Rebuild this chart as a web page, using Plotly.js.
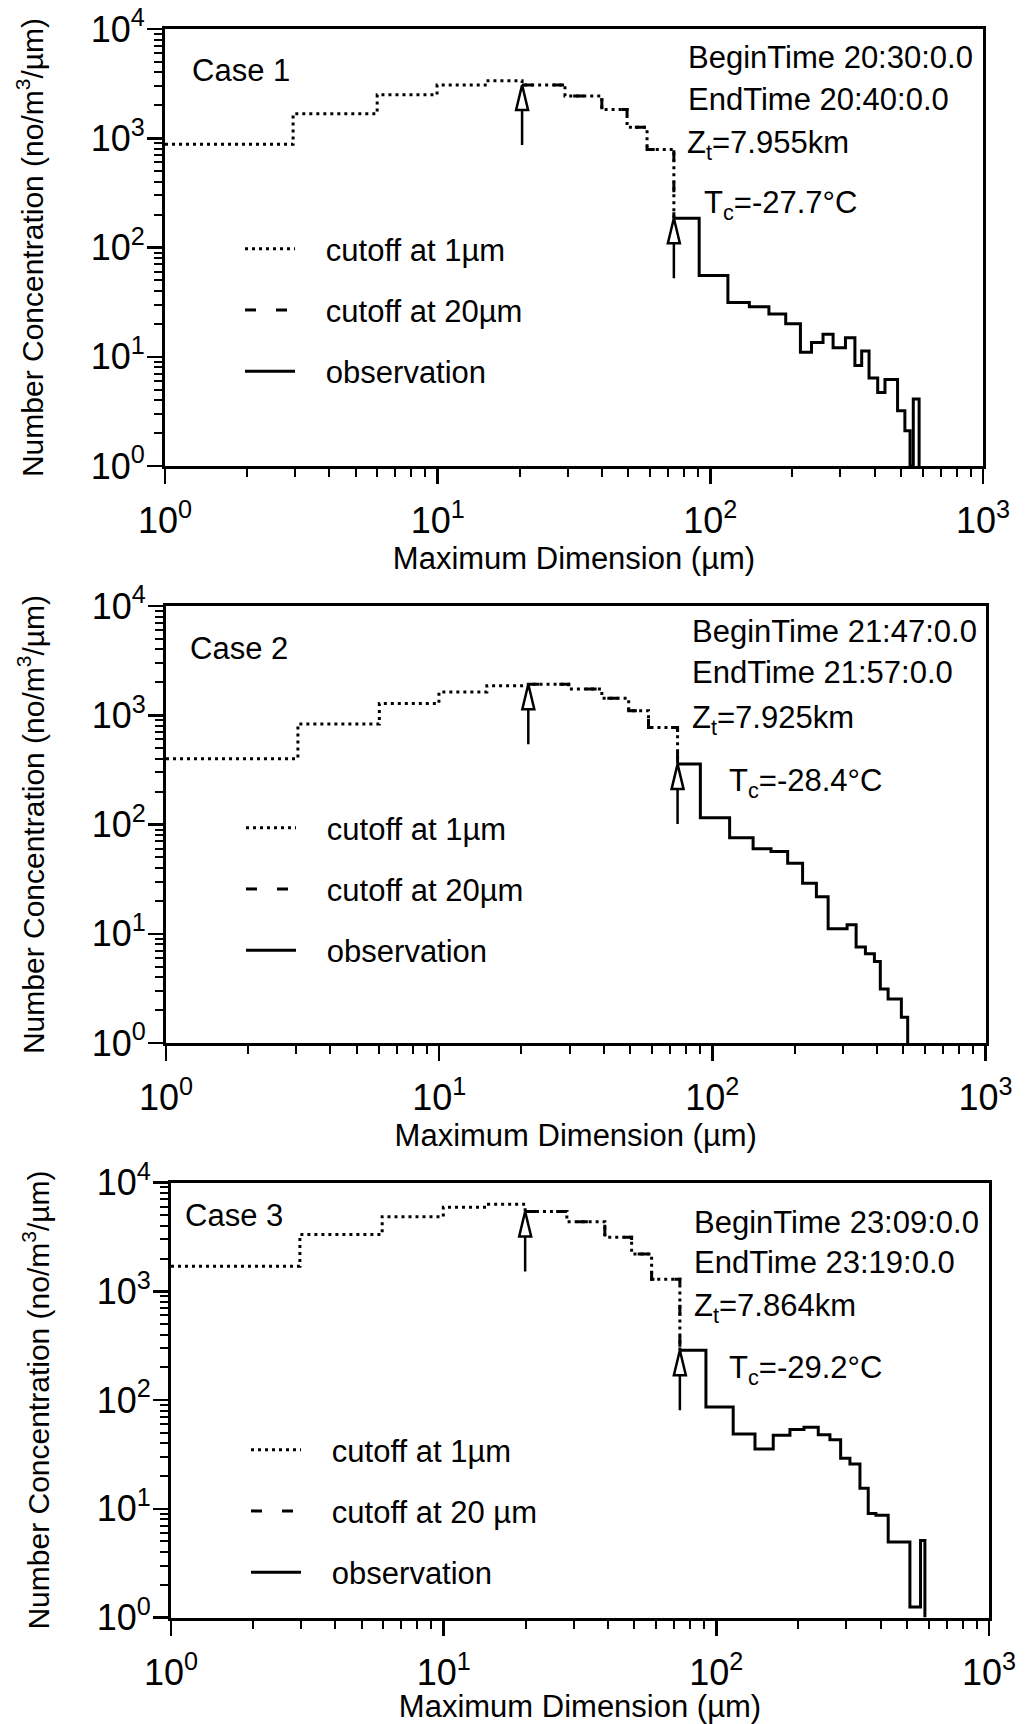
<!DOCTYPE html>
<html><head><meta charset="utf-8">
<script src="https://cdn.plot.ly/plotly-3.0.1.min.js"></script>
<style>html,body{margin:0;padding:0;background:#fff}</style>
</head><body><div id="chart" style="width:1033px;height:1724px"></div>
<script>
// ---------------- data ----------------
const caseNames  = ['Case 1', 'Case 2', 'Case 3'];
const beginTimes = ['20:30:0.0', '21:47:0.0', '23:09:0.0'];
const endTimes   = ['20:40:0.0', '21:57:0.0', '23:19:0.0'];
const zTops      = ['7.955', '7.925', '7.864'];
const tClouds    = ['-27.7', '-28.4', '-29.2'];
const seriesLabels = [
  ['cutoff at 1µm', 'cutoff at 20µm', 'observation'],
  ['cutoff at 1µm', 'cutoff at 20µm', 'observation'],
  ['cutoff at 1µm', 'cutoff at 20 µm', 'observation']
];
const xTickVals = [1, 10, 100, 1000];
const xTickText = ['10<sup>0</sup>', '10<sup>1</sup>', '10<sup>2</sup>', '10<sup>3</sup>'];
const yTickVals = [1, 10, 100, 1000, 10000];
const yTickText = ['10<sup>0</sup>', '10<sup>1</sup>', '10<sup>2</sup>', '10<sup>3</sup>', '10<sup>4</sup>'];

// Case 1 — bin edges (µm) and concentrations (no/m3/µm)
const cut1Edges1 = [1, 2.95, 6, 9.95, 15.3, 20.4, 29.3, 40, 49.5, 58.6, 73.5];
const cut1Vals1  = [880, 1680, 2500, 3070, 3360, 3070, 2440, 1830, 1260, 790];
const cut20Edges1 = [20.4, 29.3, 40, 49.5, 58.6, 73.5];
const cut20Vals1  = [3070, 2440, 1830, 1260, 790];
const obsEdges1 = [73.5, 91, 116, 139, 164, 189, 214, 235, 259, 282, 313, 339, 359, 382, 411, 437, 486, 517, 540, 555, 583];
const obsVals1  = [185, 55.5, 31.3, 28.7, 24.6, 20.0, 11.0, 13.5, 16.1, 12.1, 14.9, 8.3, 11.3, 6.4, 4.7, 6.2, 3.2, 2.1, 0, 4.1];

// Case 2
const cut1Edges2 = [1, 3.04, 6.04, 9.98, 14.95, 21.2, 29.8, 39.4, 49.4, 58.4, 74.6];
const cut1Vals2  = [400, 830, 1280, 1630, 1860, 1920, 1740, 1430, 1100, 774];
const cut20Edges2 = [21.2, 29.8, 39.4, 49.4, 58.4, 74.6];
const cut20Vals2  = [1920, 1740, 1430, 1100, 774];
const obsEdges2 = [74.6, 90.4, 115.7, 141, 164, 188.7, 214, 240.4, 265.4, 311.4, 336, 363.4, 392, 412, 440, 492, 519];
const obsVals2  = [357, 115, 75.5, 60, 56.7, 44.2, 29, 21.8, 11.1, 12.1, 7.55, 6.55, 5.58, 3.12, 2.53, 1.72];

// Case 3
const cut1Edges3 = [1, 2.97, 5.95, 9.97, 14.6, 19.9, 28.3, 39, 48.9, 57.9, 73.5];
const cut1Vals3  = [1700, 3320, 4850, 5930, 6300, 5410, 4350, 3140, 2200, 1290];
const cut20Edges3 = [19.9, 28.3, 39, 48.9, 57.9, 73.5];
const cut20Vals3  = [5410, 4350, 3140, 2200, 1290];
const obsEdges3 = [73.5, 91.6, 115.3, 138.6, 161.7, 186.2, 209.6, 236.5, 261, 285.7, 309, 336.3, 360.6, 384.7, 426.9, 512.8, 561, 582];
const obsVals3  = [287, 86.3, 48.8, 35.4, 47.3, 53.5, 56.2, 47.9, 43, 29.1, 25.8, 15.4, 9.06, 8.72, 4.95, 1.25, 5.1];

// ---------------- drawing ----------------
const FONT = 'Liberation Sans, Arial, Helvetica, sans-serif';
const Y_FLOOR = 1; // bottom of the y axis (zero bins drawn on the axis)
const LEG_PAD = '\u00a0\u00a0\u00a0'; // gap between legend sample and label

const cases = [
  {c1e: cut1Edges1, c1v: cut1Vals1, c20e: cut20Edges1, c20v: cut20Vals1, oe: obsEdges1, ov: obsVals1},
  {c1e: cut1Edges2, c1v: cut1Vals2, c20e: cut20Edges2, c20v: cut20Vals2, oe: obsEdges2, ov: obsVals2},
  {c1e: cut1Edges3, c1v: cut1Vals3, c20e: cut20Edges3, c20v: cut20Vals3, oe: obsEdges3, ov: obsVals3}
];

// panel geometry (pixels in the 1033x1724 page)
const W = 1033, H = 1724;
const panels = [
  {l: 165, r: 983, t: 29, b: 466, legTop: 222},
  {l: 166, r: 985.5, t: 606, b: 1043, legTop: 801},
  {l: 171, r: 989, t: 1182.5, b: 1617.5, legTop: 1423}
];

function stepXY(edges, vals, endVal) {
  const y = vals.map(v => Math.max(v, Y_FLOOR));
  y.push(Math.max(endVal, Y_FLOOR));
  return {x: edges.slice(), y: y};
}

const minorX = [], minorY = [];
for (let d = 0; d < 3; d++) for (let m = 2; m <= 9; m++) minorX.push(m * Math.pow(10, d));
for (let d = 0; d < 4; d++) for (let m = 2; m <= 9; m++) minorY.push(m * Math.pow(10, d));

const traces = [];
const layout = {
  width: W, height: H,
  margin: {l: 0, r: 0, t: 0, b: 0},
  paper_bgcolor: 'white', plot_bgcolor: 'white',
  font: {family: FONT, color: 'black', size: 30},
  showlegend: true,
  annotations: [], shapes: []
};

const lineStyles = [
  {color: 'black', width: 3, dash: '3px,4px'},
  {color: 'black', width: 3, dash: '11px,20px'},
  {color: 'black', width: 3, dash: 'solid'}
];

cases.forEach((c, i) => {
  const k = i + 1;
  const sfx = k === 1 ? '' : String(k);
  const xa = 'x' + sfx, ya = 'y' + sfx;
  const lg = 'legend' + sfx;
  const obsFirst = c.ov[0];
  const s1 = stepXY(c.c1e, c.c1v, obsFirst);
  const s20 = stepXY(c.c20e, c.c20v, obsFirst);
  const so = stepXY(c.oe, c.ov, Y_FLOOR);
  [s1, s20, so].forEach((s, j) => {
    traces.push({
      type: 'scatter', mode: 'lines', x: s.x, y: s.y,
      line: Object.assign({shape: 'hv'}, lineStyles[j]),
      name: LEG_PAD + seriesLabels[i][j], legend: lg, legendgroup: 'g' + k + '_' + j,
      xaxis: xa, yaxis: ya, hoverinfo: 'skip'
    });
  });

  const p = panels[i];
  const common = {
    type: 'log', showline: true, mirror: true, linecolor: 'black', linewidth: 3,
    ticks: 'outside', ticklen: 15, tickwidth: 2.5, tickcolor: 'black',
    showgrid: false, zeroline: false, tickmode: 'array',
    tickfont: {family: FONT, size: 36, color: 'black'}, automargin: false
  };
  layout['xaxis' + sfx] = Object.assign({}, common, {
    domain: [p.l / W, p.r / W], range: [0, 3], anchor: ya,
    tickvals: xTickVals, ticktext: xTickText, ticklabelstandoff: 6,
    minor: {tickmode: 'array', tickvals: minorX, ticks: 'outside', ticklen: 8, tickwidth: 2, tickcolor: 'black', showgrid: false},
    title: {text: 'Maximum Dimension (µm)', font: {family: FONT, size: 31, color: 'black'}, standoff: 8}
  });
  layout['yaxis' + sfx] = Object.assign({}, common, {
    domain: [1 - p.b / H, 1 - p.t / H], range: [0, 4], anchor: xa,
    tickvals: yTickVals, ticktext: yTickText, ticklabelstandoff: -5,
    minor: {tickmode: 'array', tickvals: minorY, ticks: 'outside', ticklen: 8, tickwidth: 2, tickcolor: 'black', showgrid: false},
    title: {text: 'Number Concentration (no/m<sup>3</sup>/µm)', font: {family: FONT, size: 30, color: 'black'}, standoff: 39}
  });
  layout[lg] = {
    x: (p.l + 75) / W, y: 1 - p.legTop / H, xanchor: 'left', yanchor: 'top',
    bgcolor: 'rgba(0,0,0,0)', borderwidth: 0, tracegroupgap: 18, itemwidth: 50,
    font: {family: FONT, size: 31, color: 'black'}, traceorder: 'grouped'
  };

  // arrows marking the 20 µm cutoff and the start of the observation
  [[c.c20e[0], c.c20v[0]], [c.oe[0], c.ov[0]]].forEach(a => {
    layout.shapes.push({
      type: 'path', xref: xa, yref: ya, xsizemode: 'pixel', ysizemode: 'pixel',
      xanchor: a[0], yanchor: a[1],
      path: 'M0,0 L-6,-25 L6,-25 Z M0,-25 L0,-60',
      line: {color: 'black', width: 2.5}, fillcolor: 'rgba(0,0,0,0)', layer: 'above'
    });
  });
});

// text annotations (pixel positions of the labels in the page)
const textPos = [
  {cs: [190, 70], bt: [686, 58], et: [686, 100], zt: [685, 145], tc: [702, 205]},
  {cs: [188, 648], bt: [690, 631], et: [690, 672], zt: [690, 720], tc: [727, 783]},
  {cs: [183, 1215], bt: [692, 1222], et: [692, 1262], zt: [692, 1308], tc: [727, 1370]}
];
function ann(text, xy) {
  return {text: text, xref: 'paper', yref: 'paper', x: xy[0] / W, y: 1 - xy[1] / H,
          xanchor: 'left', yanchor: 'middle', showarrow: false,
          font: {family: FONT, size: 31, color: 'black'}};
}
textPos.forEach((tp, i) => {
  layout.annotations.push(ann(caseNames[i], tp.cs));
  layout.annotations.push(ann('BeginTime ' + beginTimes[i], tp.bt));
  layout.annotations.push(ann('EndTime ' + endTimes[i], tp.et));
  layout.annotations.push(ann('Z<sub>t</sub>=' + zTops[i] + 'km', tp.zt));
  layout.annotations.push(ann('T<sub>c</sub>=' + tClouds[i] + '°C', tp.tc));
});

Plotly.newPlot('chart', traces, layout, {staticPlot: true, displayModeBar: false});
</script>
</body></html>
